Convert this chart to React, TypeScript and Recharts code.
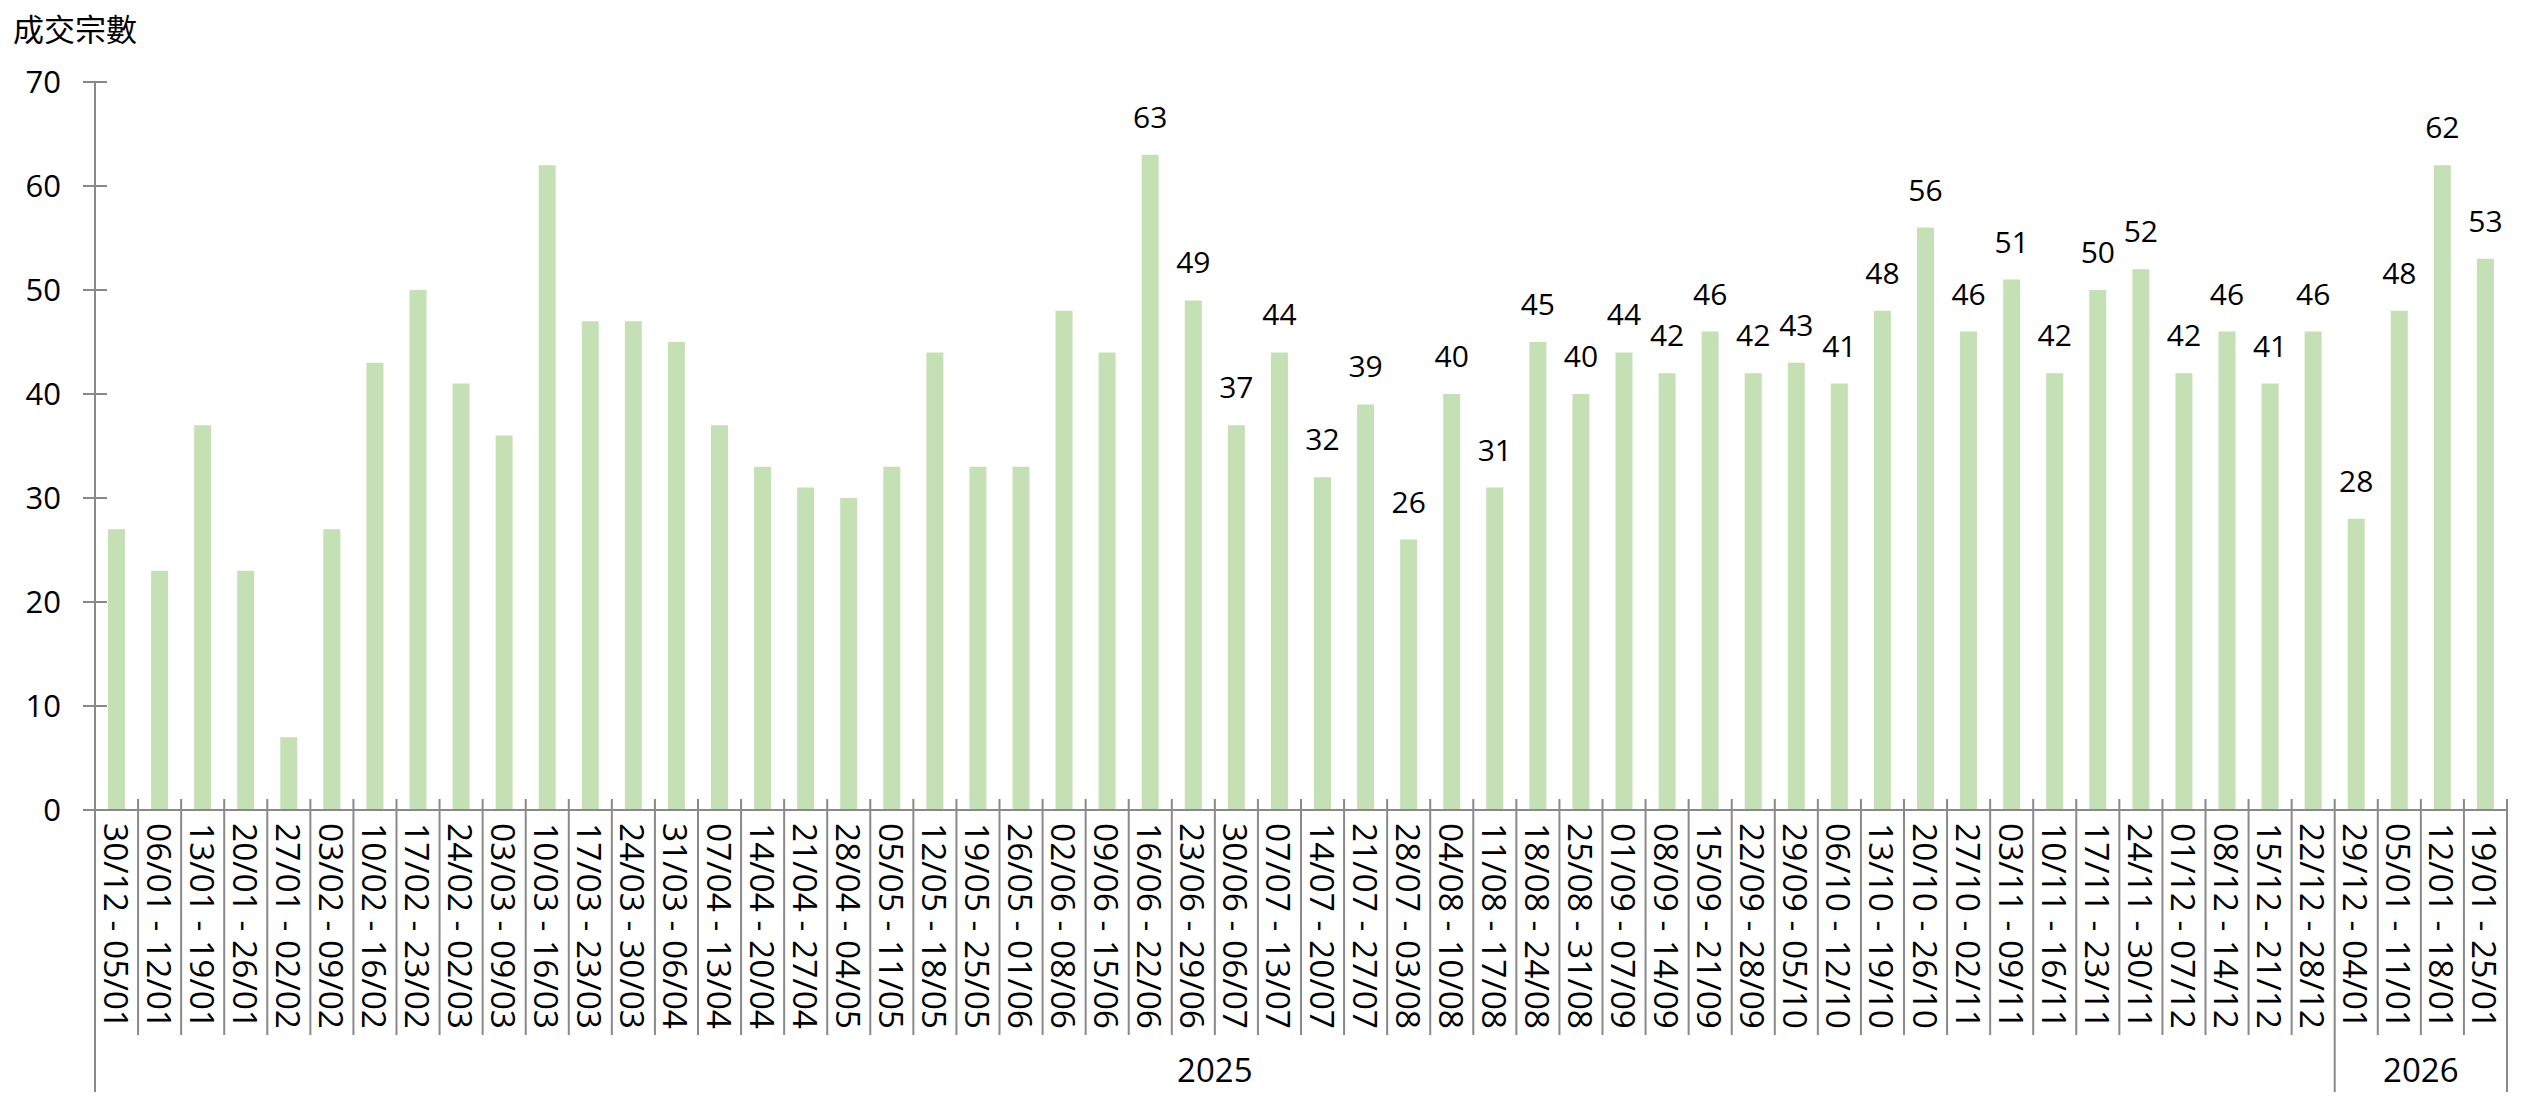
import { BarChart, Bar, XAxis, YAxis, LabelList } from 'recharts';

const PERIODS = [
  '30/12 - 05/01', '06/01 - 12/01', '13/01 - 19/01', '20/01 - 26/01', '27/01 - 02/02',
  '03/02 - 09/02', '10/02 - 16/02', '17/02 - 23/02', '24/02 - 02/03', '03/03 - 09/03',
  '10/03 - 16/03', '17/03 - 23/03', '24/03 - 30/03', '31/03 - 06/04', '07/04 - 13/04',
  '14/04 - 20/04', '21/04 - 27/04', '28/04 - 04/05', '05/05 - 11/05', '12/05 - 18/05',
  '19/05 - 25/05', '26/05 - 01/06', '02/06 - 08/06', '09/06 - 15/06', '16/06 - 22/06',
  '23/06 - 29/06', '30/06 - 06/07', '07/07 - 13/07', '14/07 - 20/07', '21/07 - 27/07',
  '28/07 - 03/08', '04/08 - 10/08', '11/08 - 17/08', '18/08 - 24/08', '25/08 - 31/08',
  '01/09 - 07/09', '08/09 - 14/09', '15/09 - 21/09', '22/09 - 28/09', '29/09 - 05/10',
  '06/10 - 12/10', '13/10 - 19/10', '20/10 - 26/10', '27/10 - 02/11', '03/11 - 09/11',
  '10/11 - 16/11', '17/11 - 23/11', '24/11 - 30/11', '01/12 - 07/12', '08/12 - 14/12',
  '15/12 - 21/12', '22/12 - 28/12', '29/12 - 04/01', '05/01 - 11/01', '12/01 - 18/01',
  '19/01 - 25/01',
];

const DEALS = [
  27, 23, 37, 23, 7, 27, 43, 50, 41, 36,
  62, 47, 47, 45, 37, 33, 31, 30, 33, 44,
  33, 33, 48, 44, 63, 49, 37, 44, 32, 39,
  26, 40, 31, 45, 40, 44, 42, 46, 42, 43,
  41, 48, 56, 46, 51, 42, 50, 52, 42, 46,
  41, 46, 28, 48, 62, 53,
];

const YEARS = ['2025', '2026'];
const YEAR_SPANS = [52, 4];
const Y_TICKS = [0, 10, 20, 30, 40, 50, 60, 70];
// bars from this one onward carry a value label
const LABEL_FROM = 24;

const data = PERIODS.map((period, i) => ({
  period,
  deals: DEALS[i],
  label: i >= LABEL_FROM ? DEALS[i] : null,
}));

const W = 2532;
const H = 1108;
const AXIS = '#898989';
const BAR = '#c5e0b4';
const FONT = '"Open Sans", sans-serif';

const groupStarts = YEAR_SPANS.map((_, g) => YEAR_SPANS.slice(0, g).reduce((a, b) => a + b, 0));

function PeriodTick(props: any) {
  const { x, y, payload, index } = props;
  const n = PERIODS.length;
  const band = (props.width || 2412) / n;
  const left = x - band / 2;
  const g = groupStarts.indexOf(index);
  const isStart = g >= 0;
  return (
    <g>
      <line x1={left} x2={left} y1={y - 11} y2={isStart ? y + 282 : y + 225} stroke={AXIS} strokeWidth={2} />
      {index === n - 1 && (
        <line x1={left + band} x2={left + band} y1={y - 11} y2={y + 282} stroke={AXIS} strokeWidth={2} />
      )}
      <text
        x={x}
        y={y + 13}
        transform={`rotate(90 ${x} ${y + 13})`}
        textAnchor="start"
        dominantBaseline="central"
        fontFamily={FONT}
        fontSize={33.5}
        fill="#000"
      >
        {payload.value}
      </text>
      {isStart && (
        <text
          x={left + (band * YEAR_SPANS[g]) / 2}
          y={y + 272}
          textAnchor="middle"
          fontFamily={FONT}
          fontSize={33}
          fill="#000"
        >
          {YEARS[g]}
        </text>
      )}
    </g>
  );
}

function CountTick(props: any) {
  const { x, y, payload } = props;
  const ax = x + 34;
  return (
    <g>
      <line x1={ax - 12} x2={ax + 12} y1={y} y2={y} stroke={AXIS} strokeWidth={2} />
      <text x={x} y={y} dy="0.36em" textAnchor="end" fontFamily={FONT} fontSize={31} fill="#000">
        {payload.value}
      </text>
    </g>
  );
}

function ValueLabel(props: any) {
  const { value } = props;
  if (value === null || value === undefined) return null;
  const vb = props.viewBox || props;
  const x = (vb.x ?? props.x) + (vb.width ?? props.width) / 2;
  const y = vb.y ?? props.y;
  return (
    <text x={x} y={y - 27} textAnchor="middle" fontFamily={FONT} fontSize={30} fill="#000">
      {value}
    </text>
  );
}

export default function App() {
  return (
    <div style={{ position: 'absolute', left: 0, top: 0, width: W, height: H, background: '#fff' }}>
      <BarChart width={W} height={H} data={data} margin={{ top: 82, right: 25, left: 0, bottom: 0 }}>
        <XAxis
          dataKey="period"
          interval={0}
          tickSize={0}
          tickMargin={0}
          tickLine={false}
          axisLine={{ stroke: AXIS, strokeWidth: 2 }}
          height={298}
          tick={(p: any) => <PeriodTick {...p} />}
        />
        <YAxis
          type="number"
          domain={[0, 70]}
          ticks={Y_TICKS}
          width={95}
          tickSize={12}
          tickMargin={22}
          tickLine={false}
          axisLine={{ stroke: AXIS, strokeWidth: 2 }}
          tick={(p: any) => <CountTick {...p} />}
        />
        <Bar dataKey="deals" fill={BAR} barSize={17} isAnimationActive={false}>
          <LabelList dataKey="label" content={(p: any) => <ValueLabel {...p} />} />
        </Bar>
      </BarChart>
      <svg width={W} height={60} style={{ position: 'absolute', left: 0, top: 0, pointerEvents: 'none' }}>
        <text x={13} y={41} fontFamily='"Noto Sans CJK TC", sans-serif' fontSize={31} fill="#000">
          成交宗數
        </text>
      </svg>
    </div>
  );
}
